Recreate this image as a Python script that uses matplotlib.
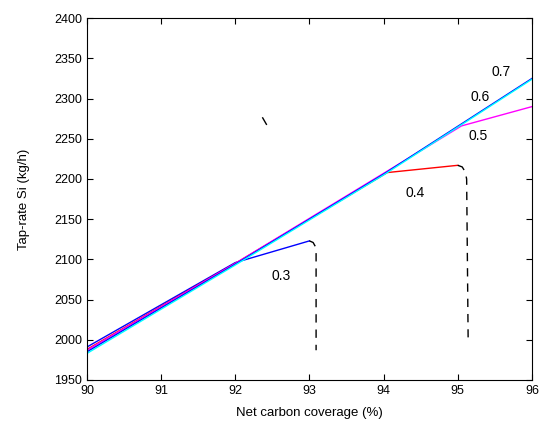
import matplotlib
matplotlib.use('Agg')
import matplotlib.pyplot as plt

plt.rcParams['font.family'] = ['Liberation Sans', 'DejaVu Sans']

# series along the main trajectory, then branching off
x_03 = [90, 92.0, 93.0]
y_03 = [1991, 2096, 2123]
x_04 = [90, 92.0, 94.05, 95.0]
y_04 = [1988, 2095, 2208, 2217]
x_05 = [90, 92.0, 94.0, 95.05, 96]
y_05 = [1987, 2095, 2207, 2266, 2290]
x_06 = [90, 92.0, 94.0, 96]
y_06 = [1985, 2094, 2206, 2325]
x_07 = [90, 92.0, 94.0, 96]
y_07 = [1983, 2093, 2205, 2324]

# dashed drop-offs
drop_03_x = [93.0, 93.05, 93.08, 93.09, 93.09]
drop_03_y = [2123, 2121, 2116, 2108, 1987]
drop_04_x = [95.0, 95.06, 95.1, 95.12, 95.14]
drop_04_y = [2217, 2215, 2209, 2200, 2003]
stray_x = [92.37, 92.42]
stray_y = [2276, 2268]

labels = ['0.3', '0.4', '0.5', '0.6', '0.7']
label_x = [92.62, 94.42, 95.28, 95.3, 95.58]
label_y = [2079, 2182, 2253, 2302, 2333]

fig = plt.figure(figsize=(5.4, 4.23), dpi=100)
ax = fig.add_axes([0.161, 0.1017, 0.824, 0.8553])

ax.plot(x_03, y_03, color='#0000ff', lw=1)
ax.plot(x_04, y_04, color='#ff0000', lw=1)
ax.plot(x_05, y_05, color='#ff00ff', lw=1)
ax.plot(x_06, y_06, color='#0000ff', lw=1)
ax.plot(x_07, y_07, color='#00ffff', lw=1)
ax.plot(drop_03_x, drop_03_y, color='black', lw=1, ls=(0, (6, 5)))
ax.plot(drop_04_x, drop_04_y, color='black', lw=1, ls=(0, (6, 5)))
ax.plot(stray_x, stray_y, color='black', lw=1)

for t, x, y in zip(labels, label_x, label_y):
    ax.text(x, y, t, fontsize=10, ha='center', va='center')

ax.set_xlim(90, 96)
ax.set_ylim(1950, 2400)
ax.set_xticks(range(90, 97))
ax.set_yticks(range(1950, 2401, 50))
ax.tick_params(direction='in', top=True, right=True, labelsize=9, length=4)
ax.set_xlabel('Net carbon coverage (%)', fontsize=9.5, labelpad=7)
ax.set_ylabel('Tap-rate Si (kg/h)', fontsize=9.5, labelpad=17)

plt.savefig('out.png', dpi=100)
plt.close()
